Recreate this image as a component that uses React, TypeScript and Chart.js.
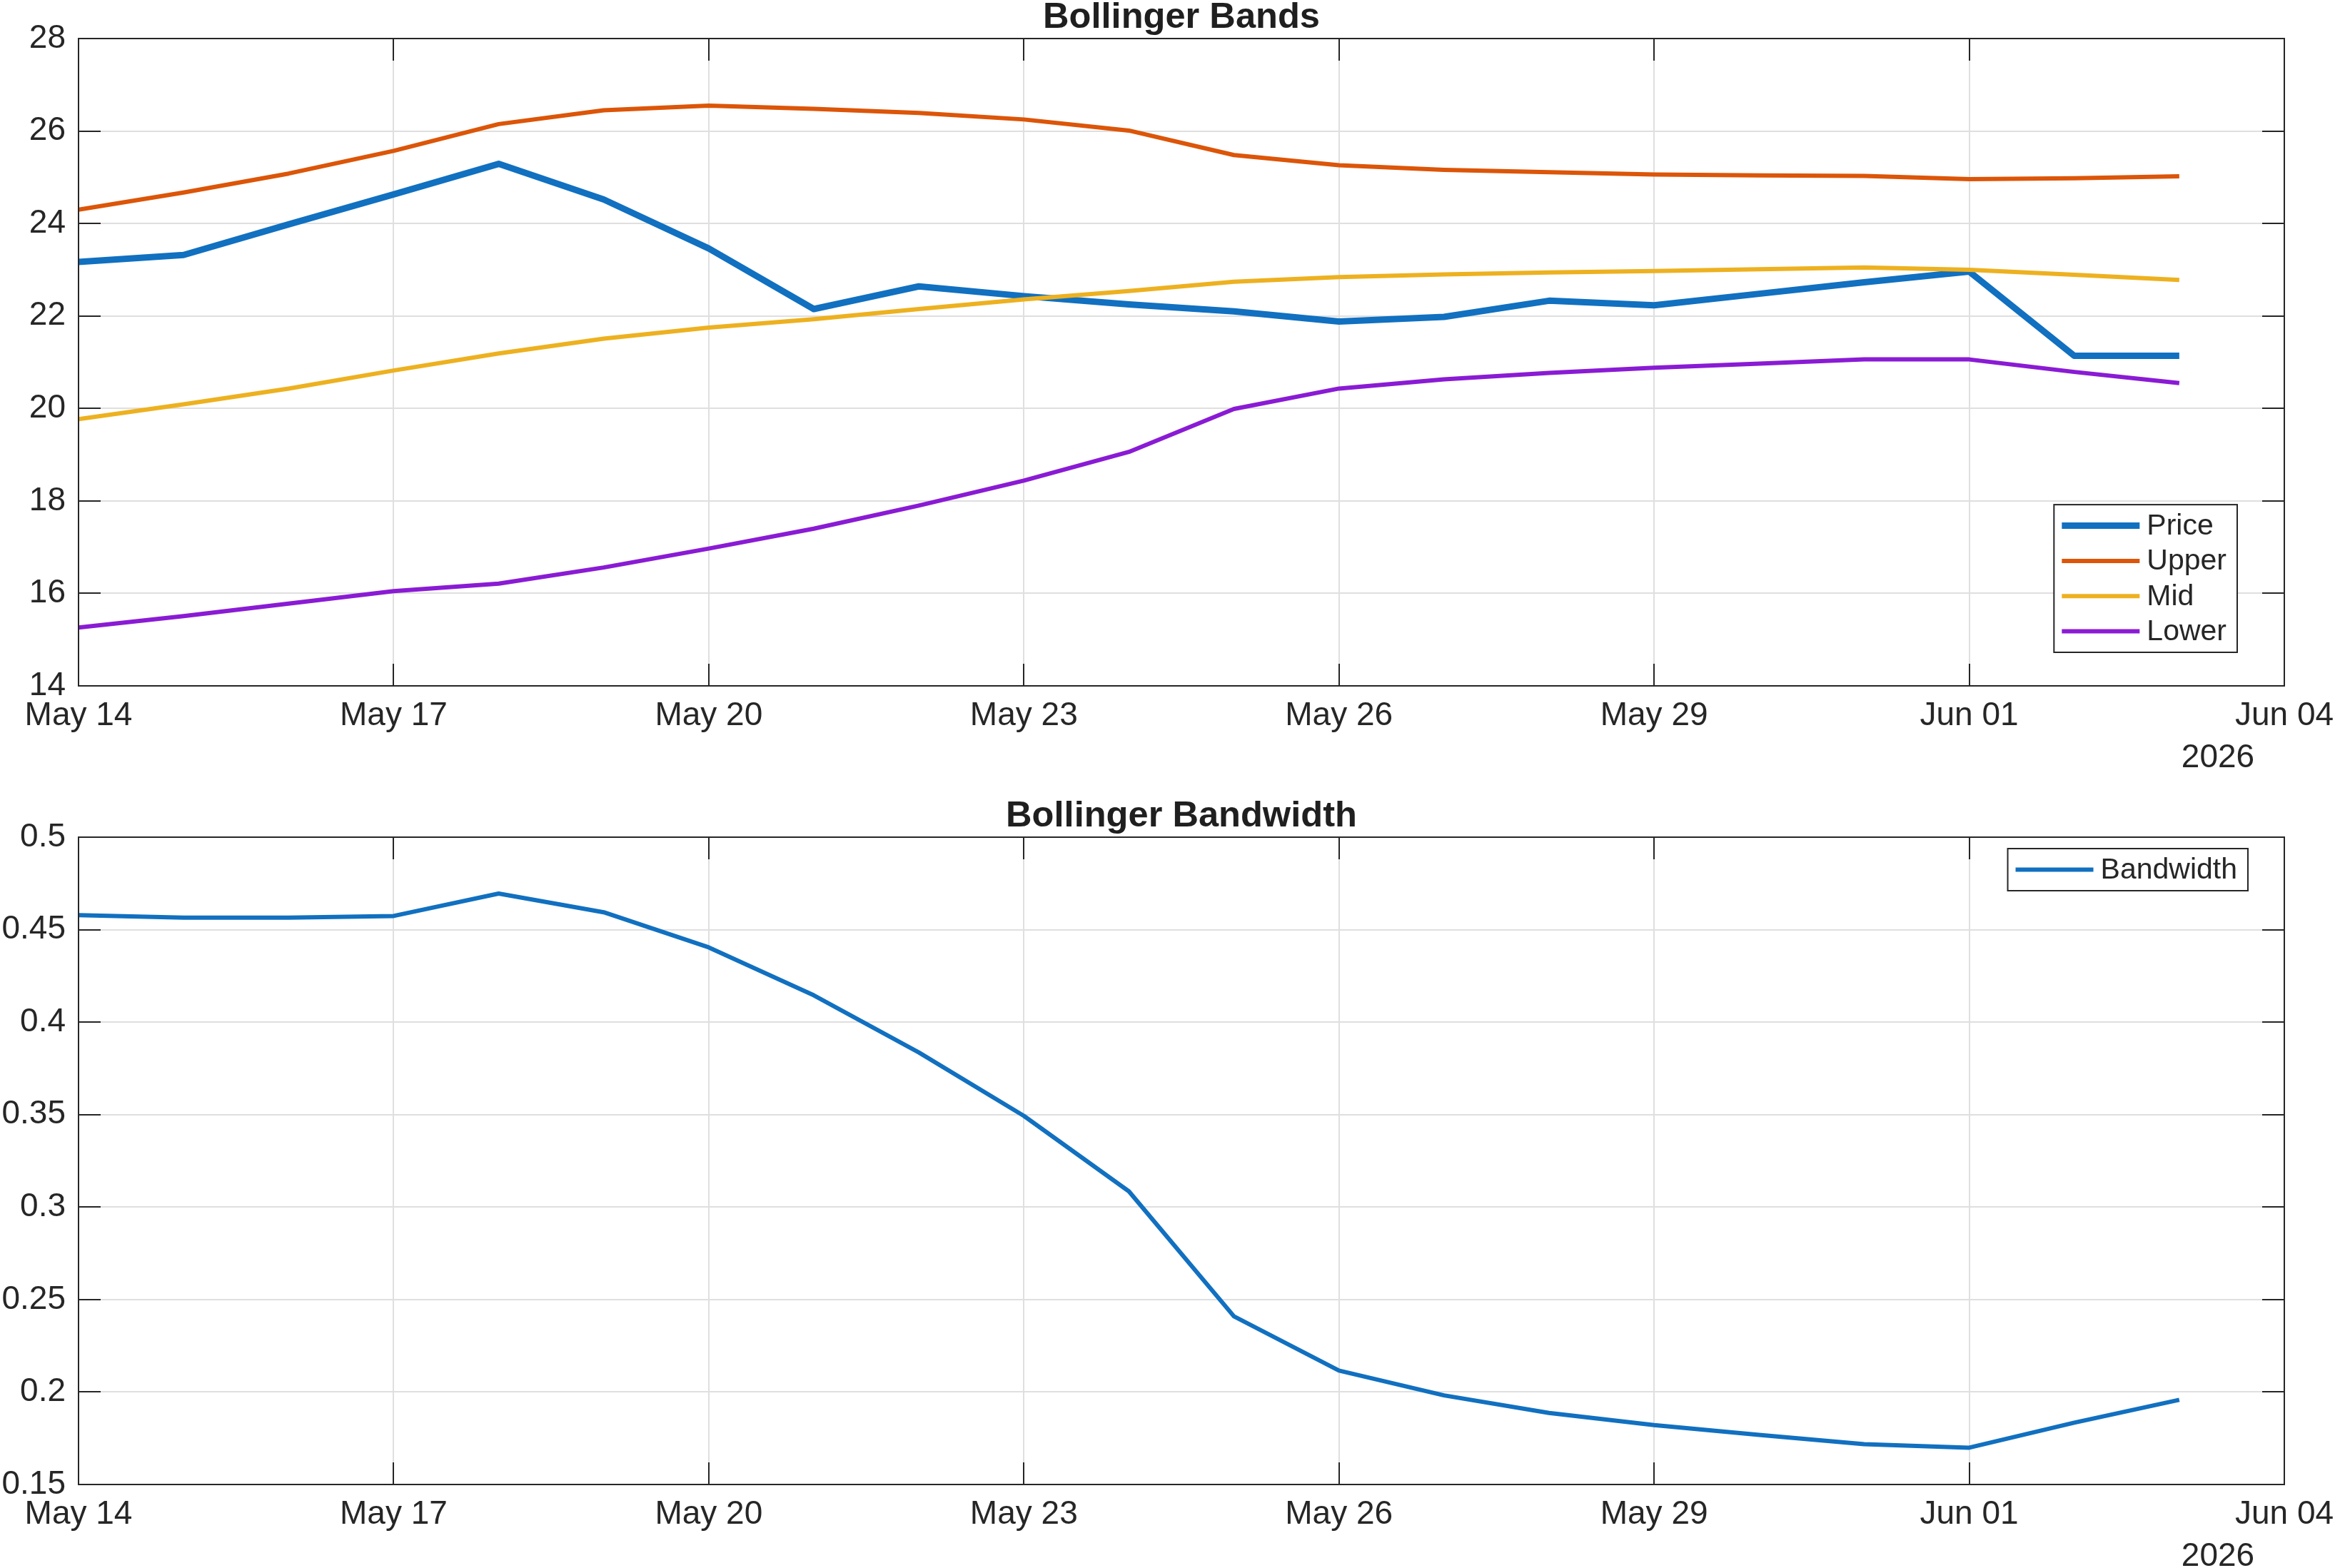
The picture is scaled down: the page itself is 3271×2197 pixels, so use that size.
import { useEffect, useRef } from 'react';
import { Chart, registerables } from 'chart.js';

Chart.register(...registerables);

// Daily observations
const DATES = [
  '2026-05-14', '2026-05-15', '2026-05-16', '2026-05-17', '2026-05-18', '2026-05-19', '2026-05-20',
  '2026-05-21', '2026-05-22', '2026-05-23', '2026-05-24', '2026-05-25', '2026-05-26', '2026-05-27',
  '2026-05-28', '2026-05-29', '2026-05-30', '2026-05-31', '2026-06-01', '2026-06-02', '2026-06-03',
];

const PRICE = [23.17, 23.32, 23.98, 24.63, 25.29, 24.52, 23.46, 22.15, 22.64, 22.43, 22.25, 22.10, 21.88, 21.98, 22.33, 22.23, 22.48, 22.73, 22.96, 21.14, 21.14];
const UPPER = [24.30, 24.67, 25.08, 25.57, 26.15, 26.45, 26.55, 26.48, 26.39, 26.25, 26.01, 25.48, 25.26, 25.16, 25.11, 25.06, 25.04, 25.03, 24.96, 24.98, 25.02];
const MID = [19.77, 20.09, 20.43, 20.82, 21.19, 21.51, 21.75, 21.93, 22.15, 22.36, 22.54, 22.74, 22.84, 22.90, 22.94, 22.97, 23.01, 23.05, 23.00, 22.89, 22.78];
const LOWER = [15.26, 15.51, 15.78, 16.05, 16.21, 16.56, 16.97, 17.40, 17.90, 18.44, 19.06, 19.99, 20.43, 20.63, 20.77, 20.88, 20.97, 21.06, 21.06, 20.79, 20.55];
const BANDWIDTH = [0.4578, 0.4565, 0.4565, 0.4574, 0.4695, 0.4594, 0.4404, 0.4145, 0.3836, 0.3493, 0.3085, 0.2409, 0.2116, 0.1982, 0.1887, 0.1821, 0.1768, 0.1718, 0.1699, 0.1834, 0.1958];

// Axis ticks
const X_TICK_DATES = ['2026-05-14', '2026-05-17', '2026-05-20', '2026-05-23', '2026-05-26', '2026-05-29', '2026-06-01', '2026-06-04'];
const X_TICK_LABELS = ['May 14', 'May 17', 'May 20', 'May 23', 'May 26', 'May 29', 'Jun 01', 'Jun 04'];
const X_YEAR_LABEL = '2026';
const BANDS_Y_TICKS = [14, 16, 18, 20, 22, 24, 26, 28];
const BANDS_Y_LABELS = ['14', '16', '18', '20', '22', '24', '26', '28'];
const BW_Y_TICKS = [0.15, 0.2, 0.25, 0.3, 0.35, 0.4, 0.45, 0.5];
const BW_Y_LABELS = ['0.15', '0.2', '0.25', '0.3', '0.35', '0.4', '0.45', '0.5'];

const TITLE_BANDS = 'Bollinger Bands';
const TITLE_BW = 'Bollinger Bandwidth';

const COLOR_PRICE = '#1170C0';
const COLOR_UPPER = '#DC5508';
const COLOR_MID = '#EDB120';
const COLOR_LOWER = '#8A1BD4';
const COLOR_BW = '#1170C0';

const INK = '#262626';
const GRID = '#dfdfdf';
const FONT = "'Liberation Sans', Arial, Helvetica, sans-serif";
const AXIS_FONT_SIZE = 46;
const LEGEND_FONT_SIZE = 41;
const TITLE_FONT_SIZE = 50.6;
const TICK_LEN = 31;

const PAGE_W = 3271;
const TOP_H = 1100;
const BOTTOM_H = 1097;
const AXES_LEFT = 110;
const AXES_RIGHT = 3200;

const DAY_MS = 86400000;
const dayOffset = (d: string) => (Date.parse(d) - Date.parse(DATES[0])) / DAY_MS;

const points = (values: number[]) => DATES.map((d, i) => ({ x: dayOffset(d), y: values[i] }));

type LegendPlacement = { anchor: 'bottom' | 'top'; rightGap: number; vGap: number };

// Box, inside tick marks, title, year label and the in-axes legend
function framePlugin(title: string, legend: LegendPlacement) {
  return {
    id: 'frame',
    afterDraw(chart: any) {
      const { ctx, chartArea: a, scales } = chart;
      const xs = scales.x;
      const ys = scales.y;
      ctx.save();

      ctx.strokeStyle = INK;
      ctx.lineWidth = 2;
      ctx.beginPath();
      xs.ticks.forEach((t: any) => {
        const px = Math.round(xs.getPixelForValue(t.value));
        ctx.moveTo(px, a.bottom);
        ctx.lineTo(px, a.bottom - TICK_LEN);
        ctx.moveTo(px, a.top);
        ctx.lineTo(px, a.top + TICK_LEN);
      });
      ys.ticks.forEach((t: any) => {
        const py = Math.round(ys.getPixelForValue(t.value));
        ctx.moveTo(a.left, py);
        ctx.lineTo(a.left + TICK_LEN, py);
        ctx.moveTo(a.right, py);
        ctx.lineTo(a.right - TICK_LEN, py);
      });
      ctx.stroke();
      ctx.strokeRect(a.left, a.top, a.right - a.left, a.bottom - a.top);

      // title
      ctx.fillStyle = '#1f1f1f';
      ctx.font = `bold ${TITLE_FONT_SIZE}px ${FONT}`;
      ctx.textAlign = 'center';
      ctx.textBaseline = 'alphabetic';
      ctx.fillText(title, (a.left + a.right) / 2, a.top - 15);

      // year under the last date tick
      ctx.fillStyle = INK;
      ctx.font = `${AXIS_FONT_SIZE}px ${FONT}`;
      ctx.fillText(X_YEAR_LABEL, a.right - 93, a.bottom + 114);

      // legend
      const sets = chart.data.datasets;
      ctx.font = `${LEGEND_FONT_SIZE}px ${FONT}`;
      const textW = Math.max(...sets.map((s: any) => ctx.measureText(s.label).width));
      const lineStart = 11;
      const lineLen = 109;
      const gap = 10;
      const rowH = 49.3;
      const boxW = lineStart + lineLen + gap + textW + 15;
      const boxH = 59 + (sets.length - 1) * rowH;
      const right = a.right - legend.rightGap;
      const left = right - boxW;
      const top = legend.anchor === 'bottom' ? a.bottom - legend.vGap - boxH : a.top + legend.vGap;
      ctx.fillStyle = '#ffffff';
      ctx.fillRect(left, top, boxW, boxH);
      ctx.strokeStyle = INK;
      ctx.lineWidth = 2;
      ctx.strokeRect(left, top, boxW, boxH);
      ctx.textAlign = 'left';
      ctx.textBaseline = 'middle';
      sets.forEach((s: any, i: number) => {
        const cy = top + 29.5 + i * rowH;
        ctx.strokeStyle = s.borderColor;
        ctx.lineWidth = s.borderWidth;
        ctx.lineCap = 'butt';
        ctx.beginPath();
        ctx.moveTo(left + lineStart, cy);
        ctx.lineTo(left + lineStart + lineLen, cy);
        ctx.stroke();
        ctx.fillStyle = INK;
        ctx.fillText(s.label, left + lineStart + lineLen + gap, cy + 1);
      });

      ctx.restore();
    },
  };
}

function axisOptions(yTicks: number[], yLabels: string[], xAxisHeight: number, topPad: number) {
  const tickFont = { family: FONT, size: AXIS_FONT_SIZE };
  return {
    responsive: false,
    animation: false as const,
    events: [],
    layout: { padding: { left: 0, right: PAGE_W - AXES_RIGHT, top: topPad, bottom: 0 } },
    plugins: { legend: { display: false }, title: { display: false }, tooltip: { enabled: false } },
    elements: {
      point: { radius: 0 },
      line: { tension: 0, borderJoinStyle: 'round' as const, borderCapStyle: 'butt' as const },
    },
    scales: {
      x: {
        type: 'linear' as const,
        min: dayOffset(X_TICK_DATES[0]),
        max: dayOffset(X_TICK_DATES[X_TICK_DATES.length - 1]),
        afterBuildTicks: (s: any) => {
          s.ticks = X_TICK_DATES.map((d) => ({ value: dayOffset(d) }));
        },
        afterFit: (s: any) => {
          s.height = xAxisHeight;
          s.paddingLeft = 0;
          s.paddingRight = 0;
        },
        grid: { color: GRID, lineWidth: 2, drawTicks: false },
        border: { display: false },
        ticks: {
          padding: 15,
          maxRotation: 0,
          autoSkip: false,
          color: INK,
          font: tickFont,
          callback: (_v: any, i: number) => X_TICK_LABELS[i],
        },
      },
      y: {
        type: 'linear' as const,
        min: yTicks[0],
        max: yTicks[yTicks.length - 1],
        afterBuildTicks: (s: any) => {
          s.ticks = yTicks.map((v) => ({ value: v }));
        },
        afterFit: (s: any) => {
          s.width = AXES_LEFT;
          s.paddingTop = 0;
          s.paddingBottom = 0;
        },
        grid: { color: GRID, lineWidth: 2, drawTicks: false },
        border: { display: false },
        ticks: {
          padding: 18,
          color: INK,
          font: tickFont,
          callback: (_v: any, i: number) => yLabels[i],
        },
      },
    },
  };
}

export default function App() {
  const topRef = useRef<HTMLCanvasElement>(null);
  const bottomRef = useRef<HTMLCanvasElement>(null);

  useEffect(() => {
    const bands = new Chart(topRef.current as HTMLCanvasElement, {
      type: 'line',
      data: {
        datasets: [
          { label: 'Price', data: points(PRICE), borderColor: COLOR_PRICE, borderWidth: 9, order: 4 },
          { label: 'Upper', data: points(UPPER), borderColor: COLOR_UPPER, borderWidth: 6, order: 3 },
          { label: 'Mid', data: points(MID), borderColor: COLOR_MID, borderWidth: 6, order: 2 },
          { label: 'Lower', data: points(LOWER), borderColor: COLOR_LOWER, borderWidth: 6, order: 1 },
        ],
      },
      options: axisOptions(BANDS_Y_TICKS, BANDS_Y_LABELS, TOP_H - 961, 54) as any,
      plugins: [framePlugin(TITLE_BANDS, { anchor: 'bottom', rightGap: 66, vGap: 47 })],
    });

    const bandwidth = new Chart(bottomRef.current as HTMLCanvasElement, {
      type: 'line',
      data: {
        datasets: [
          { label: 'Bandwidth', data: points(BANDWIDTH), borderColor: COLOR_BW, borderWidth: 6 },
        ],
      },
      options: axisOptions(BW_Y_TICKS, BW_Y_LABELS, BOTTOM_H - 980, 73) as any,
      plugins: [framePlugin(TITLE_BW, { anchor: 'top', rightGap: 51, vGap: 16 })],
    });

    return () => {
      bands.destroy();
      bandwidth.destroy();
    };
  }, []);

  return (
    <div style={{ position: 'absolute', left: 0, top: 0, width: PAGE_W, height: TOP_H + BOTTOM_H, background: '#ffffff' }}>
      <canvas ref={topRef} width={PAGE_W} height={TOP_H} style={{ position: 'absolute', left: 0, top: 0, display: 'block' }} />
      <canvas ref={bottomRef} width={PAGE_W} height={BOTTOM_H} style={{ position: 'absolute', left: 0, top: TOP_H, display: 'block' }} />
    </div>
  );
}
